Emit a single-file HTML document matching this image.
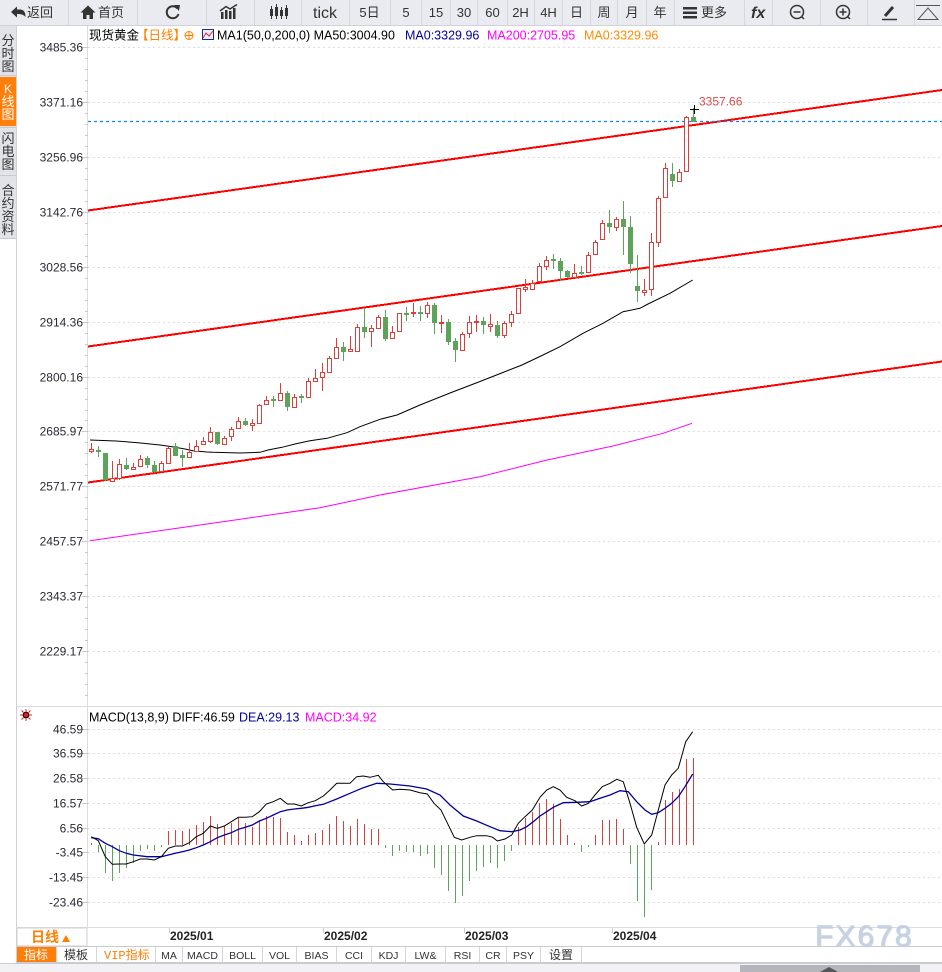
<!DOCTYPE html>
<html><head><meta charset="utf-8"><style>
html,body{margin:0;padding:0;background:#fff;width:942px;height:972px;overflow:hidden}
svg{display:block}
text{font-family:"Liberation Sans","Noto Sans CJK SC",sans-serif}
.m{font-family:"Liberation Mono","Noto Sans CJK SC",monospace}
</style></head><body>
<svg width="942" height="972" viewBox="0 0 942 972" xmlns="http://www.w3.org/2000/svg">
<rect width="942" height="972" fill="#fff"/>
<!-- toolbar -->
<rect x="0" y="0" width="942" height="25" fill="#eaebf0"/>
<path d="M0 25.5H942" stroke="#d0d2d8"/>
<g stroke="#d6d8de"><path d="M68.5 0V25M137.5 0V25M206.5 0V25M254.5 0V25M301.5 0V25M349.5 0V25M390.5 0V25M421.5 0V25M450.5 0V25M477.5 0V25M507.5 0V25M534.5 0V25M562.5 0V25M590.5 0V25M617.5 0V25M646.5 0V25M674.5 0V25M744.5 0V25M772.5 0V25M820.5 0V25M867.5 0V25M914.5 0V25"/></g>
<g fill="#333">
<path d="M11 12 L17 6.5 V9.5 H20 Q25.5 9.5 25.5 17 Q23 13.5 17 14 V17.5 Z"/>
<path d="M88 5.5 L80.5 12.5 H83 V19 H86.5 V15 H89.5 V19 H93 V12.5 H95.5 Z"/>
<rect x="221" y="12" width="2.5" height="7"/><rect x="225" y="10" width="2.5" height="9"/><rect x="229" y="11" width="2.5" height="8"/><rect x="233" y="8" width="2.5" height="11"/>
<rect x="270" y="9" width="3" height="7"/><rect x="275" y="7" width="3" height="9"/><rect x="280" y="10" width="3" height="6"/><rect x="285" y="8" width="3" height="8"/>
<rect x="683" y="7" width="14" height="2.5"/><rect x="683" y="11.5" width="14" height="2.5"/><rect x="683" y="16" width="14" height="2.5"/>
</g>
<path d="M220 11 L226 6.5 L230 9 L237 4.5" stroke="#333" stroke-width="1.5" fill="none"/>
<path d="M271.5 6V19M276.5 4V19M281.5 7V19M286.5 5V19" stroke="#333" stroke-width="1"/>
<path d="M177.5 8.5 A6 6 0 1 0 178.5 14" stroke="#333" stroke-width="2" fill="none"/>
<path d="M174 5 L180 5 L179 11 Z" fill="#333"/>
<text x="27" y="17" font-size="13" fill="#333">返回</text>
<text x="98" y="17" font-size="13" fill="#333">首页</text>
<text x="325" y="18" font-size="16" fill="#333" text-anchor="middle">tick</text>
<g font-size="13" fill="#333" text-anchor="middle">
<text x="369.5" y="17">5日</text><text x="406" y="17">5</text><text x="436" y="17">15</text><text x="464" y="17">30</text><text x="492.5" y="17">60</text><text x="520.5" y="17">2H</text><text x="548.5" y="17">4H</text><text x="576.5" y="17">日</text><text x="604" y="17">周</text><text x="632" y="17">月</text><text x="660" y="17">年</text>
</g>
<text x="701" y="17" font-size="13" fill="#333">更多</text>
<text x="751" y="18" font-size="16" font-weight="bold" font-style="italic" fill="#333" font-family="Liberation Serif, serif">fx</text>
<circle cx="797" cy="12" r="6.5" stroke="#333" stroke-width="1.5" fill="none"/><path d="M793.5 12H800.5" stroke="#333" stroke-width="1.5"/><path d="M801.5 16.5L804 19" stroke="#333" stroke-width="1.5"/>
<circle cx="843" cy="12" r="6.5" stroke="#333" stroke-width="1.5" fill="none"/><path d="M839.5 12H846.5M843 8.5V15.5M847.5 16.5L850 19" stroke="#333" stroke-width="1.5"/>
<path d="M885 16 L893 7" stroke="#333" stroke-width="3"/><path d="M882 19.5H897" stroke="#333" stroke-width="1.5"/>
<path d="M916 5.5H940" stroke="#555"/><path d="M918 19.5 L928 8 L938 19.5 Z" stroke="#555" fill="none"/>
<!-- left sidebar -->
<rect x="0" y="26" width="16" height="212" fill="#e2e3e8"/>
<rect x="0" y="77" width="16" height="49" fill="#ff7f0a"/>
<path d="M0 75.5H16M0 127.5H16M0 175.5H16M0 238.5H16" stroke="#c8c9d0"/>
<path d="M16.5 26V963" stroke="#cfd0d6"/>
<g font-size="13" text-anchor="middle" fill="#333">
<text x="8" y="45">分</text><text x="8" y="58">时</text><text x="8" y="71">图</text>
<text x="8" y="93" fill="#fff" font-size="12">K</text><text x="8" y="106" fill="#fff">线</text><text x="8" y="119" fill="#fff">图</text>
<text x="8" y="143">闪</text><text x="8" y="156">电</text><text x="8" y="169">图</text>
<text x="8" y="195">合</text><text x="8" y="208">约</text><text x="8" y="221">资</text><text x="8" y="234">料</text>
</g>
<!-- axes frame -->
<path d="M87.5 26V927" stroke="#dcdcdc"/>
<path d="M16 706.5H942M16 927.5H942" stroke="#dcdcdc"/>
<!-- grid main -->
<g stroke="#dedede" stroke-dasharray="2,3">
<path d="M88 47.5H942M88 102.5H942M88 157.5H942M88 212.5H942M88 267.5H942M88 322.5H942M88 377.5H942M88 431.5H942M88 486.5H942M88 541.5H942M88 596.5H942M88 651.5H942"/>
<path d="M88 729.5H942M88 753.5H942M88 778.5H942M88 803.5H942M88 828.5H942M88 852.5H942M88 877.5H942M88 902.5H942"/>
</g>
<g stroke="#c8c8c8">
<path d="M82 47.5h6M82 102.5h6M82 157.5h6M82 212.5h6M82 267.5h6M82 322.5h6M82 377.5h6M82 431.5h6M82 486.5h6M82 541.5h6M82 596.5h6M82 651.5h6"/>
<path d="M82 729.5h6M82 753.5h6M82 778.5h6M82 803.5h6M82 828.5h6M82 852.5h6M82 877.5h6M82 902.5h6"/>
<path d="M85 58.5h3M85 69.5h3M85 80.5h3M85 91.5h3M85 113.5h3M85 124.5h3M85 135.5h3M85 146.5h3M85 168.5h3M85 179.5h3M85 190.5h3M85 201.5h3M85 223.5h3M85 234.5h3M85 245.5h3M85 256.5h3M85 278.5h3M85 289.5h3M85 300.5h3M85 311.5h3M85 333.5h3M85 344.5h3M85 355.5h3M85 366.5h3M85 388.5h3M85 399.5h3M85 410.5h3M85 420.5h3M85 442.5h3M85 453.5h3M85 464.5h3M85 475.5h3M85 497.5h3M85 508.5h3M85 519.5h3M85 530.5h3M85 552.5h3M85 563.5h3M85 574.5h3M85 585.5h3M85 607.5h3M85 618.5h3M85 629.5h3M85 640.5h3M85 662.5h3M85 673.5h3M85 684.5h3M85 695.5h3"/>
</g>
<!-- price labels -->
<g font-size="12" fill="#2a2a35" text-anchor="end">
<text x="83" y="51.5">3485.36</text><text x="83" y="106.5">3371.16</text><text x="83" y="161.5">3256.96</text><text x="83" y="216.5">3142.76</text><text x="83" y="271.5">3028.56</text><text x="83" y="326.5">2914.36</text><text x="83" y="381.5">2800.16</text><text x="83" y="435.5">2685.97</text><text x="83" y="490.5">2571.77</text><text x="83" y="545.5">2457.57</text><text x="83" y="600.5">2343.37</text><text x="83" y="655.5">2229.17</text>
<text x="83" y="733.5">46.59</text><text x="83" y="757.5">36.59</text><text x="83" y="782.5">26.58</text><text x="83" y="807.5">16.57</text><text x="83" y="832.5">6.56</text><text x="83" y="856.5">-3.45</text><text x="83" y="881.5">-13.45</text><text x="83" y="906.5">-23.46</text>
</g>
<!-- legend -->
<text x="89" y="39.5" font-size="12.5" fill="#000">现货黄金</text>
<text x="136" y="39.5" font-size="12.5" fill="#ff7f00">【日线】</text>
<circle cx="189" cy="35.5" r="4" stroke="#ff7f00" fill="none"/><path d="M185 35.5h8M189 31.5v8" stroke="#ff7f00"/>
<rect x="202.5" y="29.5" width="11" height="10" fill="#eef" stroke="#1a2a9a"/>
<path d="M203 38 L206 33 L209 36 L213 31" stroke="#e02020" fill="none"/>
<text x="217" y="39.5" font-size="12.5" fill="#000">MA1(50,0,200,0) MA50:3004.90</text>
<text x="405" y="39.5" font-size="12.5" fill="#0000a0">MA0:3329.96</text>
<text x="487" y="39.5" font-size="12.5" fill="#ff00ff">MA200:2705.95</text>
<text x="584" y="39.5" font-size="12.5" fill="#ff8c00">MA0:3329.96</text>
<!-- channel lines -->
<g stroke="#ff0000" stroke-width="2" shape-rendering="crispEdges">
<path d="M88 210.5L942 90"/>
<path d="M88 346.5L942 226"/>
<path d="M88 482.5L942 361.5"/>
</g>
<!-- current price dashed line -->
<path d="M88 121.5H942" stroke="#0a84ff" stroke-width="1.2" stroke-dasharray="3,3"/>
<!-- MA lines -->
<polyline fill="none" stroke="#000" stroke-width="1" points="90,440 116,441 138,442.7 160,445 172,446.7 185,449 193,450.7 207,452 213,452.3 240,453 260,452.3 268,450 282,447.3 295,444 310,440.7 327,438.3 347,432.7 360,426.7 380,419.3 397,415 420,405 450,393 480,381.5 500,373.6 522,365 543,355 560,346.7 583,333.3 603,323.3 623,311.7 640,308.3 648,304 670,293.3 692.7,280"/>
<polyline fill="none" stroke="#ff00ff" stroke-width="1" points="90,540.7 200,525 320,507.7 380,495 480,476.7 547,460 613,446 663,433.3 692,423.3"/>
<!-- candles -->
<path stroke="#d9403b" fill="none" d="M91.5 443V453M112.5 461V482M119.5 459V480M133.5 463V469M140.5 455V467M161.5 461V472M168.5 447V463M189.5 443V458M196.5 440V452M203.5 437V445M210.5 427V443M224.5 436V444M231.5 427V441M238.5 417V429M252.5 419V431M259.5 404V423M266.5 396V405M280.5 383V401M294.5 394V408M308.5 378V398M315.5 369V382M322.5 363V391M329.5 356V373M336.5 338V359M350.5 336V352M357.5 324V351M371.5 325V347M378.5 315V329M392.5 326V339M399.5 313V331M413.5 303V317M427.5 302V318M441.5 315V333M462.5 332V351M469.5 316V338M476.5 315V332M490.5 314V332M504.5 321V338M511.5 311V327M518.5 288V314M525.5 279V292M532.5 280V290M539.5 263V282M546.5 256V270M574.5 264V278M588.5 252V273M595.5 240V255M602.5 220V240M616.5 217V231M644.5 279V296M651.5 233V296M658.5 196V247M665.5 163V197M679.5 169V181M686.5 116V171"/>
<path stroke="#d9403b" fill="#fff" d="M89.5 449.5h4v2h-4zM110.5 478.5h4v3h-4zM117.5 464.5h4v14h-4zM131.5 467.5h4v2h-4zM138.5 459.5h4v7h-4zM159.5 463.5h4v8h-4zM166.5 448.5h4v15h-4zM187.5 452.5h4v5h-4zM194.5 446.5h4v5h-4zM201.5 441.5h4v3h-4zM208.5 432.5h4v9h-4zM222.5 438.5h4v6h-4zM229.5 429.5h4v7h-4zM236.5 421.5h4v7h-4zM250.5 423.5h4v2h-4zM257.5 405.5h4v18h-4zM264.5 400.5h4v4h-4zM278.5 393.5h4v7h-4zM292.5 397.5h4v10h-4zM306.5 381.5h4v16h-4zM313.5 378.5h4v3h-4zM320.5 372.5h4v5h-4zM327.5 358.5h4v14h-4zM334.5 347.5h4v11h-4zM348.5 349.5h4v2h-4zM355.5 327.5h4v24h-4zM369.5 328.5h4v3h-4zM376.5 317.5h4v11h-4zM390.5 332.5h4v6h-4zM397.5 313.5h4v18h-4zM411.5 312.5h4v1h-4zM425.5 305.5h4v8h-4zM439.5 322.5h4v1h-4zM460.5 334.5h4v16h-4zM467.5 322.5h4v11h-4zM474.5 321.5h4v1h-4zM488.5 324.5h4v2h-4zM502.5 323.5h4v12h-4zM509.5 314.5h4v8h-4zM516.5 288.5h4v25h-4zM523.5 287.5h4v2h-4zM530.5 283.5h4v6h-4zM537.5 266.5h4v15h-4zM544.5 260.5h4v6h-4zM572.5 273.5h4v4h-4zM586.5 255.5h4v17h-4zM593.5 242.5h4v12h-4zM600.5 223.5h4v16h-4zM614.5 219.5h4v8h-4zM642.5 290.5h4v2h-4zM649.5 242.5h4v47h-4zM656.5 198.5h4v44h-4zM663.5 168.5h4v29h-4zM677.5 172.5h4v9h-4zM684.5 117.5h4v54h-4z"/>
<path stroke="#5ea35a" fill="none" d="M98.5 446V457M105.5 453V481M126.5 458V470M147.5 456V468M154.5 461V473M175.5 443V456M182.5 450V467M217.5 432V445M245.5 418V426M273.5 396V407M287.5 391V411M301.5 394V403M343.5 342V361M364.5 308V338M385.5 310V341M406.5 307V321M420.5 306V321M434.5 303V334M448.5 319V345M455.5 338V362M483.5 317V334M497.5 321V338M553.5 254V269M560.5 258V281M567.5 270V278M581.5 266V275M609.5 210V233M623.5 201V255M630.5 216V273M637.5 255V302M672.5 163V187M693.5 108V122"/>
<path fill="#5ea35a" d="M96 450h5v2h-5zM103 453h5v27h-5zM124 465h5v4h-5zM145 458h5v7h-5zM152 465h5v7h-5zM173 446h5v10h-5zM180 455h5v3h-5zM215 432h5v12h-5zM243 421h5v4h-5zM271 399h5v2h-5zM285 393h5v14h-5zM299 396h5v2h-5zM341 347h5v5h-5zM362 327h5v5h-5zM383 317h5v22h-5zM404 313h5v2h-5zM418 312h5v2h-5zM432 305h5v18h-5zM446 322h5v20h-5zM453 341h5v9h-5zM481 321h5v4h-5zM495 325h5v11h-5zM551 259h5v2h-5zM558 261h5v10h-5zM565 271h5v6h-5zM579 272h5v2h-5zM607 223h5v4h-5zM621 219h5v8h-5zM628 227h5v37h-5zM635 286h5v5h-5zM670 174h5v7h-5zM691 117h5v5h-5z"/>
<path d="M690 109.5h9M694.5 105v9" stroke="#000"/>
<text x="699" y="105.5" font-size="12" fill="#d94b4b">3357.66</text>
<!-- MACD header -->
<g stroke="#e02020" stroke-width="1"><path d="M26 709v3M26 718v3M20 715h3M29 715h3M21.5 710.5l2 2M30.5 710.5l-2 2M21.5 719.5l2-2M30.5 719.5l-2-2"/></g>
<circle cx="26" cy="715" r="2.8" fill="#e02020" stroke="#000" stroke-width="1"/>
<text x="89" y="721.5" font-size="12.5" fill="#000">MACD(13,8,9) DIFF:46.59</text>
<text x="239" y="721.5" font-size="12.5" fill="#0000a0">DEA:29.13</text>
<text x="305" y="721.5" font-size="12.5" fill="#ff00ff">MACD:34.92</text>
<!-- MACD histogram -->
<path stroke="#d9403b" d="M91.5 845V843M168.5 845V831M175.5 845V830M182.5 845V831M189.5 845V829M196.5 845V825M203.5 845V822M210.5 845V816M217.5 845V824M224.5 845V826M231.5 845V823M238.5 845V818M245.5 845V823M252.5 845V827M259.5 845V821M266.5 845V816M273.5 845V817M280.5 845V818M287.5 845V832M294.5 845V835M301.5 845V841M308.5 845V835M315.5 845V833M322.5 845V830M329.5 845V824M336.5 845V816M343.5 845V821M350.5 845V826M357.5 845V819M364.5 845V824M371.5 845V829M378.5 845V829M518.5 845V827M525.5 845V818M532.5 845V812M539.5 845V803M546.5 845V799M553.5 845V804M560.5 845V819M567.5 845V835M574.5 845V843M595.5 845V835M602.5 845V820M609.5 845V820M616.5 845V819M623.5 845V829M658.5 845V842M665.5 845V800M672.5 845V792M679.5 845V789M686.5 845V759M693.5 845V758"/>
<path stroke="#5ea35a" d="M98.5 845V852M105.5 845V873M112.5 845V881M119.5 845V873M126.5 845V868M133.5 845V863M140.5 845V851M147.5 845V849M154.5 845V851M161.5 845V847M385.5 845V848M392.5 845V856M399.5 845V851M406.5 845V852M413.5 845V852M420.5 845V856M427.5 845V854M434.5 845V868M441.5 845V875M448.5 845V891M455.5 845V903M462.5 845V896M469.5 845V881M476.5 845V871M483.5 845V867M490.5 845V863M497.5 845V868M504.5 845V861M511.5 845V851M581.5 845V852M588.5 845V847M630.5 845V864M637.5 845V901M644.5 845V917M651.5 845V890"/>
<polyline fill="none" stroke="#00009a" stroke-width="1.3" points="91.3,837.7 98.3,838.7 105.3,843.3 112.3,846.7 119.3,850.7 126.3,853.3 133.3,855 147.3,856.7 161.3,856.7 168.3,855 175.3,853.3 182.3,851.7 189.3,850 196.3,847.7 203.3,845 210.3,841.7 217.3,837.7 224.3,835 231.3,832.7 238.3,829.3 245.3,827.3 252.3,825 259.3,821 266.3,818.3 273.3,815 280.3,811.7 287.3,810 294.3,809 301.3,808.3 308.3,807.3 315.3,805.7 323.3,804.3 336.7,799 350,793.3 363.3,787.7 376.7,783.3 390,784 410,786 426.7,789 440,795 450,805 463.3,816 476.7,821 490,826.7 500,830.7 511.7,831.7 520,830 526.7,826.7 533.3,821.7 540,816 546.7,811.7 553.3,807.3 563.3,802.7 576.7,802.3 590,801.7 600,798.3 610,795 620,790.7 628.3,791.7 636.7,801.7 645,810 651.7,814.3 658.3,812.7 665,808.3 671.7,803.3 678.3,796.7 685,786.7 692.7,774"/>
<polyline fill="none" stroke="#000" stroke-width="1" points="91.3,836.7 98.3,840.7 105.3,856.7 112.3,864.3 119.3,864 126.3,864 133.3,861.7 140.3,859 147.3,859 154.3,860 161.3,856.7 168.3,848.3 175.3,846 182.3,846 189.3,842.7 196.3,836.7 203.3,833.3 210.3,826 217.3,828.3 224.3,826 231.3,821.7 238.3,817.3 245.3,817.3 252.3,816.7 259.3,811.7 266.3,804 273.3,801.7 280.3,798.3 287.3,804 294.3,804 301.3,806 308.3,802.7 315.3,800.7 323.3,796 330,790 336.7,783.3 350,783.3 356.7,776.7 363.3,776 370,777.3 378.3,775.3 383.3,781.7 392.7,790 400,789.3 410,790 420,792.7 427.3,794 434,803.3 441,810 446.7,821.7 454.3,837.3 461.7,840 470,837.3 476.7,835.7 486.7,835.7 492.7,837.3 497.3,841 505,839 511.7,835 518.3,823.3 525,816.7 532.3,810 540,797.3 546.7,790 553.3,786.7 560,790 566.7,797.3 575,800.7 581.7,806 588.3,803.3 595,795 602.3,786.7 610,783.3 616.7,779.3 623.3,781.7 630,803.3 636.7,827.3 644.3,844 651.7,835 658.3,810 665,785 671.7,775 678.3,768.3 685.7,741.7 692.7,731.7"/>
<!-- date row -->
<rect x="17" y="928" width="70" height="18" fill="#fff" stroke="#cfcfcf"/>
<text x="31" y="942" font-size="14" font-weight="bold" fill="#ff7f00">日线</text>
<path d="M62 942 L66 935 L70 942 Z" fill="#ff7f00"/>
<path d="M169.5 928V933M323.5 928V933M464.5 928V933M612.5 928V933" stroke="#ccc"/>
<g font-size="12" font-weight="bold" fill="#222">
<text x="170" y="940">2025/01</text><text x="324" y="940">2025/02</text><text x="465" y="940">2025/03</text><text x="613" y="940">2025/04</text>
</g>
<text x="816" y="947" font-size="30" fill="#a9b3c0" letter-spacing="2" opacity="0.5">FX678</text>
<text x="815" y="946" font-size="30" fill="#c4d2e3" stroke="#c4d2e3" stroke-width="0.6" letter-spacing="2">FX678</text>
<!-- tab row -->
<path d="M16 946.5H942M16 962.5H942" stroke="#c9cbd2"/>
<rect x="17" y="947" width="39" height="15" fill="#ff7f0a"/>
<g stroke="#d5d6dc"><path d="M56.5 947V962M96.5 947V962M155.5 947V962M182.5 947V962M222.5 947V962M262.5 947V962M296.5 947V962M336.5 947V962M371.5 947V962M405.5 947V962M445.5 947V962M479.5 947V962M506.5 947V962M540.5 947V962M581.5 947V962"/></g>
<text x="24" y="959" font-size="12" fill="#fff">指标</text>
<text x="64" y="959" font-size="12" fill="#333">模板</text>
<text x="104" y="959" font-size="12" fill="#ff7f00" class="m">VIP指标</text>
<g font-size="10.5" fill="#333" class="m" text-anchor="middle">
<text x="169" y="959">MA</text><text x="202.5" y="959">MACD</text><text x="242.5" y="959">BOLL</text><text x="279.5" y="959">VOL</text><text x="316.5" y="959">BIAS</text><text x="354" y="959">CCI</text><text x="388.5" y="959">KDJ</text><text x="425.5" y="959">LW&amp;</text><text x="462.5" y="959">RSI</text><text x="493" y="959">CR</text><text x="523.5" y="959">PSY</text>
</g>
<text x="549" y="959" font-size="12" fill="#333">设置</text>
<!-- bottom strip -->
<rect x="0" y="963" width="942" height="9" fill="#f2f2f4"/>
<path d="M0 963.5H942" stroke="#c9cbd2"/>
<rect x="740" y="965" width="180" height="7" fill="#b5b5bd"/>
<path d="M820 972 L829 967 L838 972 Z" fill="#55555d"/>
</svg>
</body></html>
